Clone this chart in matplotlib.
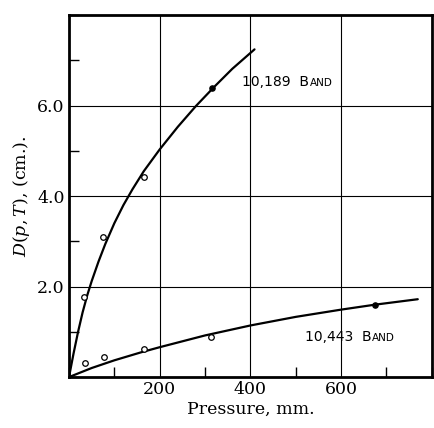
import matplotlib

matplotlib.use("Agg")
import matplotlib.pyplot as plt
from matplotlib.ticker import MultipleLocator

# curve for the 10,189 band
upper_p = [0, 10, 20, 30, 40, 50, 65, 80, 100, 120, 140, 165, 200, 240, 280, 320, 360, 409]
upper_d = [0, 0.52, 1.00, 1.43, 1.80, 2.12, 2.55, 2.94, 3.40, 3.80, 4.15, 4.55,
           5.03, 5.53, 5.99, 6.41, 6.81, 7.24]
upper_open_p = [34, 76, 165]
upper_open_d = [1.76, 3.09, 4.42]
upper_fill_p = [315]
upper_fill_d = [6.38]

# curve for the 10,443 band
lower_p = [0, 50, 100, 160, 200, 300, 400, 500, 600, 675, 769]
lower_d = [0, 0.20, 0.37, 0.55, 0.66, 0.92, 1.14, 1.33, 1.49, 1.60, 1.72]
lower_open_p = [35, 77, 165, 314]
lower_open_d = [0.31, 0.44, 0.61, 0.89]
lower_fill_p = [675]
lower_fill_d = [1.60]

x_ticks = [200, 400, 600]
y_ticks = [2.0, 4.0, 6.0]

plt.rcParams["mathtext.fontset"] = "dejavuserif"
fig = plt.figure(figsize=(4.34, 4.28), dpi=100)
ax = fig.add_axes([0.159, 0.119, 0.836, 0.846])

for p, d in ((upper_p, upper_d), (lower_p, lower_d)):
    ax.plot(p, d, color="black", linewidth=1.6, solid_capstyle="round",
            solid_joinstyle="round")
ax.scatter(upper_open_p + lower_open_p, upper_open_d + lower_open_d,
           s=16, facecolors="white", edgecolors="black", linewidths=0.9, zorder=4)
ax.scatter(upper_fill_p + lower_fill_p, upper_fill_d + lower_fill_d,
           s=14, color="black", zorder=4)

ax.set_xlim(0, 800)
ax.set_ylim(0, 8)
ax.set_xticks(x_ticks)
ax.set_yticks(y_ticks)
ax.set_xticklabels([str(v) for v in x_ticks])
ax.set_yticklabels([f"{v:.1f}" for v in y_ticks])
ax.xaxis.set_minor_locator(MultipleLocator(100))
ax.yaxis.set_minor_locator(MultipleLocator(1))
ax.tick_params(which="major", length=0, pad=3, labelsize=12.5)
ax.tick_params(which="minor", direction="in", length=7, width=1.0)
for lab in ax.get_xticklabels() + ax.get_yticklabels():
    lab.set_family("DejaVu Serif")
ax.grid(True, which="major", color="black", linewidth=0.8)
for spine in ax.spines.values():
    spine.set_linewidth(2.0)

ax.set_xlabel("Pressure, mm.", family="DejaVu Serif", fontsize=12.5, labelpad=2)
ax.set_ylabel(r"$D(p,T)$, (cm.).", family="DejaVu Serif", fontsize=12.5, labelpad=4)


def band_label(x, y, number):
    # small caps: full-size "B", smaller "AND" on the same baseline
    t = ax.text(x, y, f"{number}  B", fontsize=10, family="DejaVu Sans",
                va="baseline", ha="left")
    fig.canvas.draw()
    x1 = t.get_window_extent().x1
    _, y0 = ax.transData.transform((x, y))
    xd, yd = ax.transData.inverted().transform((x1 + 0.5, y0))
    ax.text(xd, yd, "AND", fontsize=7.5, family="DejaVu Sans",
            va="baseline", ha="left")


band_label(382, 6.42, "10,189")
band_label(521, 0.79, "10,443")

fig.savefig("out.png")
